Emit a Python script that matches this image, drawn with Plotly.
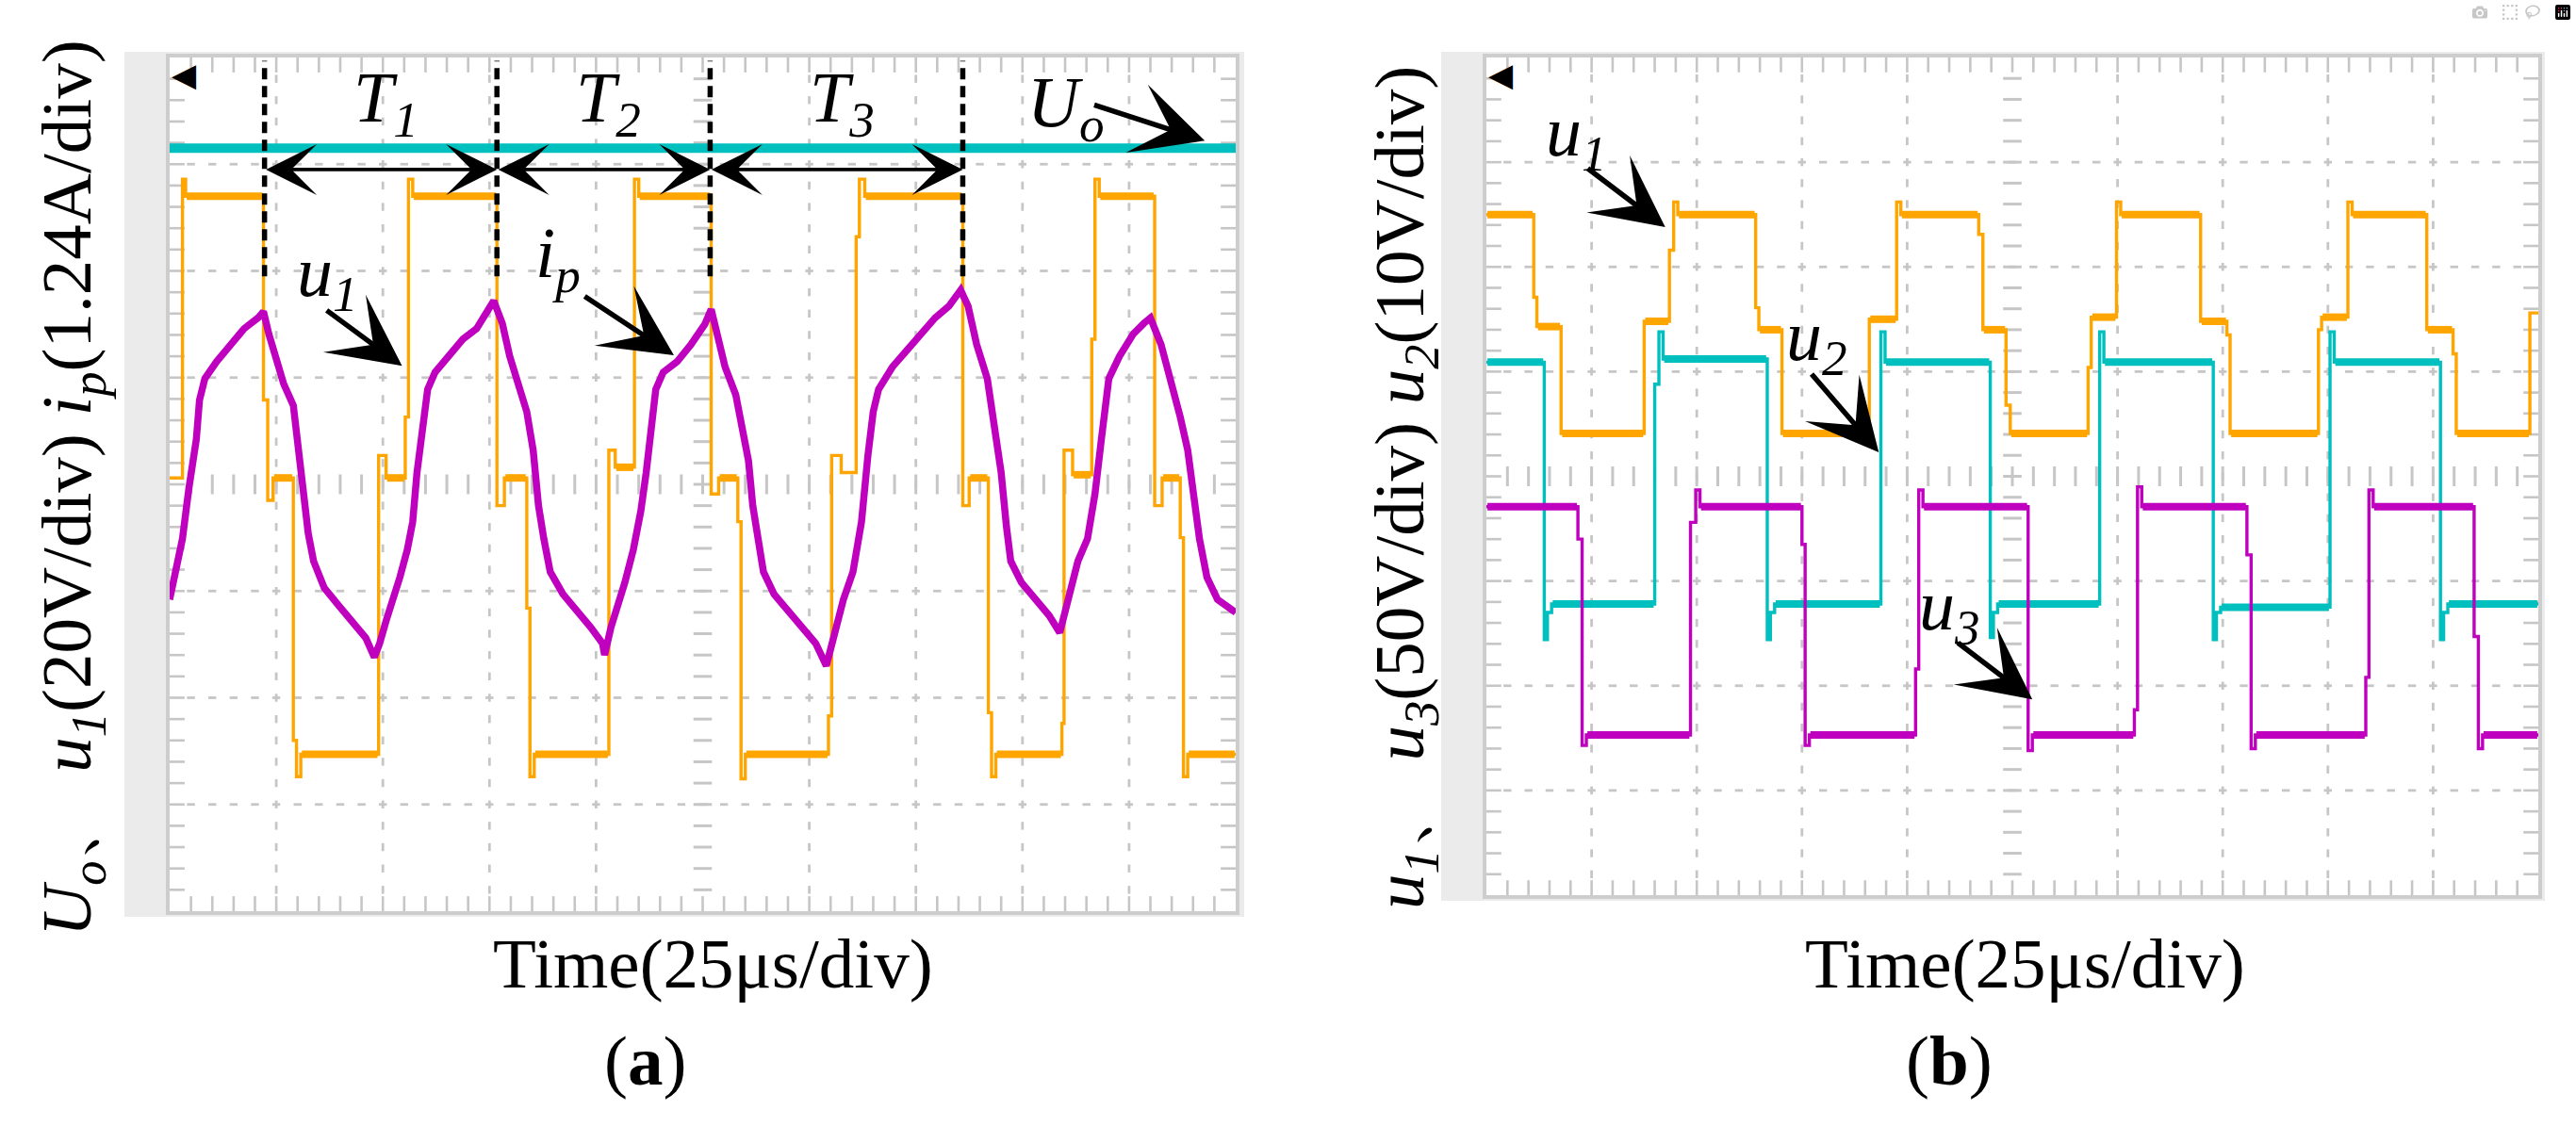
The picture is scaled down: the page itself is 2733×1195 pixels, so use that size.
import numpy as np
import plotly.graph_objects as go

# ---------------- data (oscilloscope divisions: x 0..10, y -4..4) ----------------
# Panel (a): u1 (orange, step waveform: change times / levels)
A_U1_T = [0.00, 0.12, 0.15, 0.88, 0.92, 0.97, 1.16, 1.19, 1.23, 1.96, 2.03, 2.21,
          2.24, 2.28, 3.07, 3.14, 3.35, 3.38, 3.42, 4.12, 4.18, 4.36, 4.40, 5.08,
          5.15, 5.33, 5.36, 5.40, 6.18, 6.21, 6.30, 6.44, 6.47, 6.52, 7.44, 7.50,
          7.68, 7.71, 7.75, 8.37, 8.39, 8.47, 8.65, 8.68, 8.72, 9.24, 9.31, 9.48,
          9.51, 9.55]
A_U1_V = [0.06, 2.86, 2.70, 0.79, -0.15, 0.06, -2.40, -2.74, -2.53, 0.27, 0.06, 0.63,
          2.86, 2.70, -0.20, 0.06, -1.16, -2.74, -2.53, 0.32, 0.16, 2.86, 2.70, -0.09,
          0.06, -0.35, -2.76, -2.53, -2.17, 0.27, 0.11, 2.32, 2.86, 2.70, -0.20, 0.06,
          -2.14, -2.74, -2.53, -2.24, 0.32, 0.09, 1.36, 2.86, 2.70, -0.20, 0.06, -0.50,
          -2.74, -2.53]
# Panel (a): ip (magenta)
A_IP_T = [0.00, 0.05, 0.12, 0.18, 0.25, 0.28, 0.33, 0.44, 0.57, 0.70, 0.83, 0.88,
          0.93, 0.99, 1.07, 1.16, 1.20, 1.25, 1.30, 1.35, 1.45, 1.58, 1.71, 1.84, 1.92,
          1.97, 2.03, 2.10, 2.16, 2.23, 2.28, 2.32, 2.37, 2.42, 2.49, 2.62, 2.75, 2.88, 2.97, 3.04,
          3.12, 3.19, 3.27, 3.35, 3.41, 3.46, 3.51, 3.57, 3.69, 3.82, 3.95, 4.06, 4.08,
          4.14, 4.21, 4.27, 4.35, 4.42, 4.47, 4.52, 4.56, 4.63, 4.76, 4.89, 5.02, 5.08,
          5.15, 5.21, 5.31, 5.38, 5.43, 5.47, 5.52, 5.57, 5.67, 5.80, 5.93, 6.06, 6.16,
          6.24, 6.32, 6.41, 6.49, 6.55, 6.60, 6.65, 6.78, 6.91, 7.04, 7.18, 7.31, 7.42,
          7.49, 7.57, 7.67, 7.73, 7.80, 7.85, 7.89, 7.99, 8.12, 8.25, 8.35,
          8.42, 8.52, 8.61, 8.68, 8.74, 8.81, 8.91, 9.04, 9.14, 9.20,
          9.30, 9.40, 9.48, 9.55, 9.60, 9.66, 9.73, 9.83, 9.97, 10.0]
A_IP_V = [-1.08, -0.87, -0.51, -0.04, 0.42, 0.79, 0.99, 1.15, 1.31, 1.46, 1.56, 1.62,
          1.41, 1.20, 0.94, 0.74, 0.42, -0.04, -0.46, -0.72, -0.97, -1.13, -1.28, -1.44, -1.62,
          -1.49, -1.28, -1.08, -0.87, -0.61, -0.35, 0.11, 0.53, 0.89, 1.05, 1.20, 1.36, 1.46, 1.62, 1.72,
          1.51, 1.20, 0.94, 0.68, 0.32, -0.20, -0.51, -0.82, -1.03, -1.18, -1.34, -1.49, -1.60,
          -1.34, -1.13, -0.92, -0.61, -0.25, 0.11, 0.48, 0.89, 1.05, 1.15, 1.31, 1.50, 1.64,
          1.36, 1.10, 0.84, 0.48, 0.22, -0.20, -0.51, -0.82, -1.03, -1.18, -1.34, -1.49, -1.70,
          -1.39, -1.08, -0.82, -0.35, 0.27, 0.68, 0.89, 1.10, 1.25, 1.41, 1.56, 1.67, 1.82,
          1.67, 1.31, 0.99, 0.58, 0.11, -0.40, -0.72, -0.92, -1.08, -1.23, -1.39,
          -1.13, -0.72, -0.51, -0.09, 0.42, 0.99, 1.20, 1.41, 1.51, 1.56,
          1.31, 0.94, 0.63, 0.32, -0.09, -0.51, -0.87, -1.08, -1.18, -1.20]
# Panel (a): Uo (cyan)
A_UO_T = [0.0, 10.0]
A_UO_V = [3.15, 3.15]
# Panel (a): period boundaries T1, T2, T3
A_T_BOUNDS = [0.89, 3.07, 5.07, 7.44]
A_T_NAMES = ["1", "2", "3"]

# Panel (b): u1 (orange), u2 (cyan), u3 (magenta) step waveforms
B_U1_T = [0.00, 0.45, 0.48, 0.71, 1.50, 1.74, 1.78, 1.82, 2.56, 2.59, 2.81, 3.64, 3.90,
          3.94, 4.68, 4.72, 4.94, 4.98, 5.72, 5.75, 5.99, 6.03, 6.79, 7.04, 7.07, 7.91,
          7.94, 8.19, 8.23, 8.94, 9.19, 9.22, 9.92]
B_U1_V = [2.50, 1.71, 1.43, 0.41, 1.48, 2.16, 2.62, 2.50, 1.61, 1.40, 0.41, 1.50, 2.62,
          2.50, 2.31, 1.40, 0.68, 0.41, 1.04, 1.52, 2.62, 2.50, 1.48, 1.35, 0.41, 1.40,
          1.52, 2.62, 2.50, 1.40, 1.17, 0.41, 1.56]
B_U2_T = [0.00, 0.55, 0.58, 0.62, 1.60, 1.64, 1.68, 2.67, 2.70, 2.74, 3.75, 3.79, 4.79,
          4.82, 4.86, 5.83, 5.87, 6.91, 6.94, 6.98, 8.02, 8.06, 9.07, 9.10, 9.14]
B_U2_V = [1.09, -1.56, -1.30, -1.22, 0.88, 1.38, 1.12, -1.56, -1.30, -1.22, 1.38, 1.09, -1.54,
          -1.30, -1.22, 1.38, 1.09, -1.56, -1.30, -1.25, 1.38, 1.09, -1.56, -1.30, -1.22]
B_U3_T = [0.00, 0.87, 0.91, 0.95, 1.94, 1.99, 2.03, 3.00, 3.03, 3.07, 4.08, 4.11, 4.15,
          5.15, 5.19, 6.16, 6.19, 6.23, 7.23, 7.27, 7.31, 8.36, 8.39, 8.43, 9.39, 9.43, 9.47]
B_U3_V = [-0.29, -0.60, -2.57, -2.47, -0.44, -0.13, -0.29, -0.65, -2.57, -2.47, -1.84, -0.13, -0.29,
          -2.62, -2.47, -2.23, -0.10, -0.29, -0.75, -2.60, -2.47, -1.92, -0.13, -0.29, -1.53, -2.60, -2.47]

# ---------------- styles ----------------
ORANGE = "#FFA500"
CYAN = "#00BFBF"
MAGENTA = "#BF00BF"
GRID = "#C6C6C6"
FRAME = "#EBEBEB"
SERIF = "Liberation Serif, Times New Roman, serif"
W, H = 2733, 1195

A_X = [180 / W, 1311 / W]
A_Y = [1 - 967 / H, 1 - 61 / H]
B_X = [1577 / W, 2693 / W]
B_Y = [1 - 950 / H, 1 - 61 / H]

fig = go.Figure()


def add_step(T, V, color, xa, ya, width=3.4, band=8):
    xs = list(T) + [10.0]
    ys = list(V) + [V[-1]]
    fig.add_trace(go.Scatter(x=xs, y=ys, mode="lines", line=dict(color=color, width=width, shape="hv"),
                             xaxis=xa, yaxis=ya, hoverinfo="skip", showlegend=False))
    bx, by = [], []
    for i in range(len(T)):
        t0 = T[i]
        t1 = T[i + 1] if i + 1 < len(T) else 10.0
        if t1 - t0 >= 0.15:
            bx += [t0 + 0.01, t1 - 0.01, None]
            by += [V[i], V[i], None]
    fig.add_trace(go.Scatter(x=bx, y=by, mode="lines", line=dict(color=color, width=band),
                             xaxis=xa, yaxis=ya, hoverinfo="skip", showlegend=False))


def add_graticule(xa, ya):
    sub = np.round(np.arange(0.2, 10.0, 0.2), 3)
    suby = np.round(np.arange(-3.8, 4.0, 0.2), 3)
    # vertical dotted lines
    vx, vy = [], []
    for k in [1, 2, 3, 4, 6, 7, 8, 9]:
        vx += [k] * len(suby)
        vy += list(suby)
    fig.add_trace(go.Scatter(x=vx, y=vy, mode="markers", xaxis=xa, yaxis=ya, hoverinfo="skip",
                             showlegend=False,
                             marker=dict(symbol="line-ns", size=6, color=GRID, line=dict(width=2.8, color=GRID))))
    # horizontal dotted lines
    hx, hy = [], []
    for k in [-3, -2, -1, 1, 2, 3]:
        hx += list(sub)
        hy += [k] * len(sub)
    fig.add_trace(go.Scatter(x=hx, y=hy, mode="markers", xaxis=xa, yaxis=ya, hoverinfo="skip",
                             showlegend=False,
                             marker=dict(symbol="line-ew", size=6, color=GRID, line=dict(width=2.8, color=GRID))))
    # centre cross ticks
    fig.add_trace(go.Scatter(x=list(sub), y=[0] * len(sub), mode="markers", xaxis=xa, yaxis=ya,
                             hoverinfo="skip", showlegend=False,
                             marker=dict(symbol="line-ns", size=15, line=dict(width=3, color=GRID))))
    fig.add_trace(go.Scatter(x=[5] * len(suby), y=list(suby), mode="markers", xaxis=xa, yaxis=ya,
                             hoverinfo="skip", showlegend=False,
                             marker=dict(symbol="line-ew", size=14, line=dict(width=3, color=GRID))))
    # edge ticks
    ex = list(sub) * 2
    ey = [-3.94] * len(sub) + [3.94] * len(sub)
    fig.add_trace(go.Scatter(x=ex, y=ey, mode="markers", xaxis=xa, yaxis=ya, hoverinfo="skip",
                             showlegend=False,
                             marker=dict(symbol="line-ns", size=13, line=dict(width=2.6, color=GRID))))
    fx = [0.06] * len(suby) + [9.94] * len(suby)
    fy = list(suby) * 2
    fig.add_trace(go.Scatter(x=fx, y=fy, mode="markers", xaxis=xa, yaxis=ya, hoverinfo="skip",
                             showlegend=False,
                             marker=dict(symbol="line-ew", size=13, line=dict(width=2.6, color=GRID))))


# ----- panel (a) -----
add_graticule("x", "y")
fig.add_trace(go.Scatter(x=A_UO_T, y=A_UO_V, mode="lines", line=dict(color=CYAN, width=10),
                         xaxis="x", yaxis="y", hoverinfo="skip", showlegend=False))
add_step(A_U1_T, A_U1_V, ORANGE, "x", "y")
fig.add_trace(go.Scatter(x=A_IP_T, y=A_IP_V, mode="lines", line=dict(color=MAGENTA, width=7.5),
                         xaxis="x", yaxis="y", hoverinfo="skip", showlegend=False))

# ----- panel (b) -----
add_graticule("x2", "y2")
add_step(B_U1_T, B_U1_V, ORANGE, "x2", "y2")
add_step(B_U2_T, B_U2_V, CYAN, "x2", "y2")
add_step(B_U3_T, B_U3_V, MAGENTA, "x2", "y2")

axis_common = dict(range=[0, 10], showticklabels=False, ticks="", showgrid=False, zeroline=False,
                   showline=True, mirror=True, linecolor="#CDCDCD", linewidth=4, fixedrange=True)
yaxis_common = dict(axis_common, range=[-4, 4])

shapes = [
    dict(type="rect", xref="paper", yref="paper", x0=132 / W, x1=1320 / W, y0=1 - 973 / H, y1=1 - 55 / H,
         fillcolor=FRAME, line=dict(width=0), layer="below"),
    dict(type="rect", xref="paper", yref="paper", x0=A_X[0], x1=A_X[1], y0=A_Y[0], y1=A_Y[1],
         fillcolor="white", line=dict(width=0), layer="below"),
    dict(type="rect", xref="paper", yref="paper", x0=1529 / W, x1=2700 / W, y0=1 - 956 / H, y1=1 - 55 / H,
         fillcolor=FRAME, line=dict(width=0), layer="below"),
    dict(type="rect", xref="paper", yref="paper", x0=B_X[0], x1=B_X[1], y0=B_Y[0], y1=B_Y[1],
         fillcolor="white", line=dict(width=0), layer="below"),
]
for b in A_T_BOUNDS:
    shapes.append(dict(type="line", xref="x", yref="y", x0=b, x1=b, y0=1.95, y1=3.97,
                       line=dict(color="black", width=5.5, dash="12px,7px")))

ann = []
TXT = dict(family=SERIF, size=75, color="black")


def label(x, y, text, xref="x", yref="y", size=76):
    ann.append(dict(x=x, y=y, xref=xref, yref=yref, text=text, showarrow=False,
                    font=dict(family=SERIF, size=size, color="black"), xanchor="center", yanchor="middle"))


def arrow(x0, y0, x1, y1, xref="x", yref="y", w=5.5, s=2.3):
    ann.append(dict(x=x1, y=y1, ax=x0, ay=y0, xref=xref, yref=yref, axref=xref, ayref=yref, text="",
                    showarrow=True, arrowhead=3, arrowsize=s, arrowwidth=w, arrowcolor="black", standoff=0))


# double arrows for T1..T3
for i in range(3):
    ann.append(dict(x=A_T_BOUNDS[i + 1], y=2.95, ax=A_T_BOUNDS[i], ay=2.95, xref="x", yref="y",
                    axref="x", ayref="y", text="", showarrow=True, arrowside="end+start",
                    arrowhead=3, startarrowhead=3, arrowsize=2.5, startarrowsize=2.5,
                    arrowwidth=3.6, arrowcolor="black", standoff=0, startstandoff=0))
    mid = (A_T_BOUNDS[i] + A_T_BOUNDS[i + 1]) / 2
    label(mid + 0.05, 3.58, "<i>T</i><sub><i>%s</i></sub>" % A_T_NAMES[i])

label(8.40, 3.53, "<i>U</i><sub><i>o</i></sub>")
arrow(8.66, 3.56, 9.71, 3.22)
label(1.48, 1.94, "<i>u</i><sub><i>1</i></sub>")
arrow(1.46, 1.64, 2.18, 1.11)
label(3.64, 2.12, "<i>i</i><sub><i>p</i></sub>")
arrow(3.88, 1.77, 4.73, 1.21)

label(0.86, 3.24, "<i>u</i><sub><i>1</i></sub>", "x2", "y2")
arrow(0.95, 2.95, 1.70, 2.38, "x2", "y2")
label(3.14, 1.29, "<i>u</i><sub><i>2</i></sub>", "x2", "y2")
arrow(3.08, 0.99, 3.73, 0.23, "x2", "y2")
label(4.40, -1.28, "<i>u</i><sub><i>3</i></sub>", "x2", "y2")
arrow(4.47, -1.58, 5.19, -2.13, "x2", "y2")

# channel ground markers and trigger markers
MK = dict(family="DejaVu Sans", size=22)
for (xr, yr, x, y, txt, col) in [("x", "y", -0.20, 0.48, "2+", CYAN),
                                 ("x", "y", -0.20, 0.03, "<span style='color:%s'>3</span>+" % MAGENTA, ORANGE),
                                 ("x2", "y2", -0.25, 1.53, "1+", ORANGE), ("x2", "y2", -0.25, 0.0, "2+", CYAN),
                                 ("x2", "y2", -0.25, -1.34, "3+", MAGENTA)]:
    ann.append(dict(x=x, y=y, xref=xr, yref=yr, text=txt, showarrow=False,
                    font=dict(MK, color=col), xanchor="center", yanchor="middle"))
for xr, yr in [("x", "y"), ("x2", "y2")]:
    ann.append(dict(x=0.14, y=3.84, xref=xr, yref=yr, text="<b>◀</b>", showarrow=False,
                    font=dict(family="DejaVu Sans", size=34, color="black"), xanchor="center", yanchor="middle"))
    ann.append(dict(x=10.06, y=2.08, xref=xr, yref=yr, text="◂", showarrow=False,
                    font=dict(family="DejaVu Sans", size=14, color=ORANGE), xanchor="center", yanchor="middle"))

# axis titles and captions
ann.append(dict(x=76 / W, y=1 - 518 / H, xref="paper", yref="paper", textangle=-90, showarrow=False,
                text="<i>U</i><sub><i>o</i></sub>、 <i>u</i><sub><i>1</i></sub>(20V/div) <i>i</i><sub><i>p</i></sub>(1.24A/div)",
                font=TXT, xanchor="center", yanchor="middle"))
ann.append(dict(x=1490 / W, y=1 - 518 / H, xref="paper", yref="paper", textangle=-90, showarrow=False,
                text="<i>u</i><sub><i>1</i></sub>、 <i>u</i><sub><i>3</i></sub>(50V/div) <i>u</i><sub><i>2</i></sub>(10V/div)",
                font=TXT, xanchor="center", yanchor="middle"))
for cx in [756, 2148]:
    ann.append(dict(x=cx / W, y=1 - 1022 / H, xref="paper", yref="paper", text="Time(25μs/div)",
                    showarrow=False, font=TXT, xanchor="center", yanchor="middle"))
for cx, t in [(684, "(<b>a</b>)"), (2068, "(<b>b</b>)")]:
    ann.append(dict(x=cx / W, y=1 - 1125 / H, xref="paper", yref="paper", text=t,
                    showarrow=False, font=TXT, xanchor="center", yanchor="middle"))

fig.update_layout(
    width=W, height=H, margin=dict(l=0, r=0, t=0, b=0),
    paper_bgcolor="white", plot_bgcolor="white", showlegend=False,
    xaxis=dict(axis_common, domain=A_X, anchor="y"),
    yaxis=dict(yaxis_common, domain=A_Y, anchor="x"),
    xaxis2=dict(axis_common, domain=B_X, anchor="y2"),
    yaxis2=dict(yaxis_common, domain=B_Y, anchor="x2"),
    shapes=shapes, annotations=ann,
)

fig.write_html("out.html", post_script="document.body.style.margin='0';")
